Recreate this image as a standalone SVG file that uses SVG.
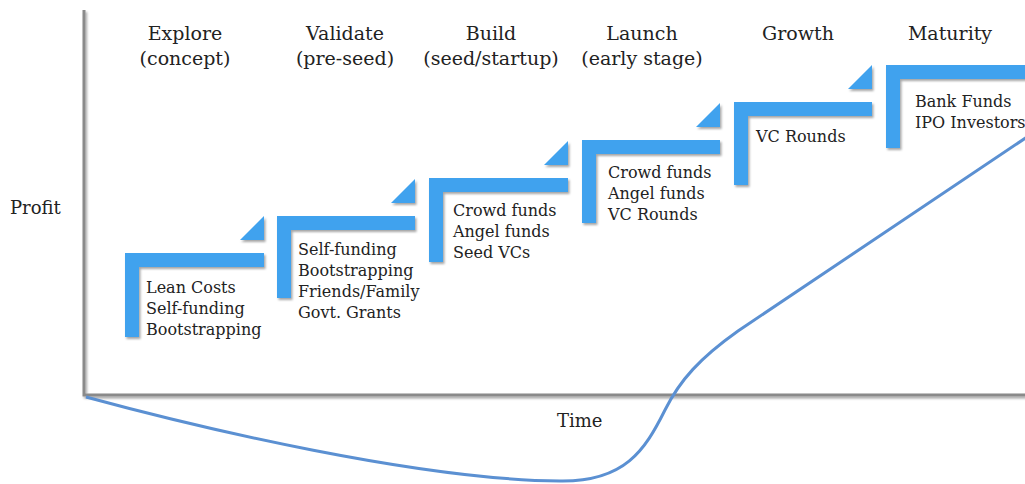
<svg xmlns="http://www.w3.org/2000/svg" width="1025" height="484" viewBox="0 0 1025 484">
<defs>
<filter id="sh" x="-10%" y="-10%" width="130%" height="130%">
<feDropShadow dx="1.5" dy="2" stdDeviation="1.2" flood-color="#000" flood-opacity="0.35"/>
</filter>
</defs>
<style>
.step{fill:#3FA2EE;filter:url(#sh);}
.t{font-family:"DejaVu Serif","Liberation Serif",serif;font-size:16px;fill:#222;}
.h{font-family:"DejaVu Serif","Liberation Serif",serif;font-size:19px;fill:#222;text-anchor:middle;}
.ax{font-family:"DejaVu Serif","Liberation Serif",serif;font-size:18px;fill:#222;}
.axis{stroke:#8a8a8a;stroke-width:3;fill:none;filter:url(#sh);}
</style>
<rect width="1025" height="484" fill="#fff"/>
<g id="axes">
<path class="axis" d="M84,10 V395 H1025"/>
<text class="ax" x="10" y="214">Profit</text>
<text class="ax" x="557" y="427">Time</text>
</g>
<g id="headers">
<text class="h" x="185" y="40">Explore</text><text class="h" x="185" y="65">(concept)</text>
<text class="h" x="345" y="40">Validate</text><text class="h" x="345" y="65">(pre-seed)</text>
<text class="h" x="491" y="40">Build</text><text class="h" x="491" y="65">(seed/startup)</text>
<text class="h" x="642" y="40">Launch</text><text class="h" x="642" y="65">(early stage)</text>
<text class="h" x="798" y="40">Growth</text>
<text class="h" x="950" y="40">Maturity</text>
</g>
<g id="step1">
<path class="step" d="M125,253 H264 V267 H139 V337 H125 Z"/>
<path class="step" d="M240,240 H264 V216 Z"/>
<text class="t" x="146" y="293">Lean Costs</text>
<text class="t" x="146" y="314">Self-funding</text>
<text class="t" x="146" y="335">Bootstrapping</text>
</g>
<g id="step2">
<path class="step" d="M277,216 H415 V230 H291 V298 H277 Z"/>
<path class="step" d="M391,203 H415 V179 Z"/>
<text class="t" x="298" y="255">Self-funding</text>
<text class="t" x="298" y="276">Bootstrapping</text>
<text class="t" x="298" y="297">Friends/Family</text>
<text class="t" x="298" y="318">Govt. Grants</text>
</g>
<g id="step3">
<path class="step" d="M429,178 H568 V192 H443 V262 H429 Z"/>
<path class="step" d="M544,165 H568 V141 Z"/>
<text class="t" x="453" y="216">Crowd funds</text>
<text class="t" x="453" y="237">Angel funds</text>
<text class="t" x="453" y="258">Seed VCs</text>
</g>
<g id="step4">
<path class="step" d="M582,140 H720 V154 H596 V223 H582 Z"/>
<path class="step" d="M696,127 H720 V103 Z"/>
<text class="t" x="608" y="178">Crowd funds</text>
<text class="t" x="608" y="199">Angel funds</text>
<text class="t" x="608" y="220">VC Rounds</text>
</g>
<g id="step5">
<path class="step" d="M734,102 H872 V116 H748 V185 H734 Z"/>
<path class="step" d="M848,89 H872 V65 Z"/>
<text class="t" x="756" y="142">VC Rounds</text>
</g>
<g id="step6">
<path class="step" d="M886,65 H1030 V79 H900 V148 H886 Z"/>
<text class="t" x="915" y="107">Bank Funds</text>
<text class="t" x="915" y="128">IPO Investors</text>
</g>
<g id="connectors">
<path d="M86,397 C200,428 420,480 560,481 C625,482 645,450 665,410 C680,380 700,358 738,331 L1027,137" fill="none" stroke="#5B90D2" stroke-width="3"/>
</g>
</svg>
